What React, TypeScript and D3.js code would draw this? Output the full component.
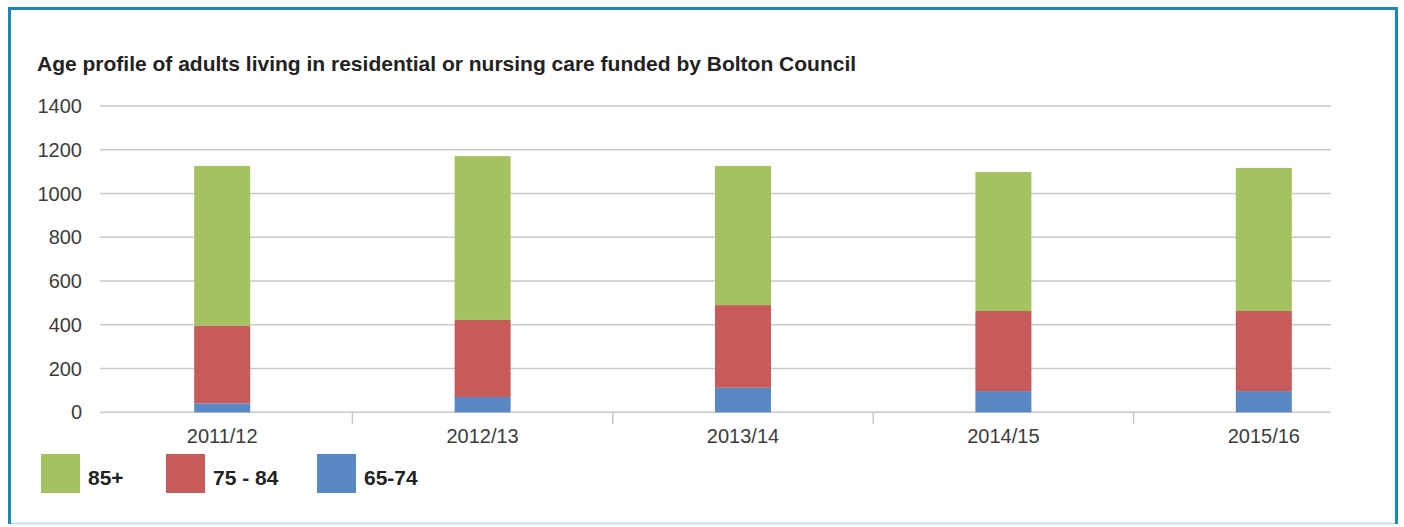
import React from "react";
import * as d3 from "d3";

const categories = ["2011/12", "2012/13", "2013/14", "2014/15", "2015/16"];
const series65to74 = [41, 70, 112, 97, 97];
const series75to84 = [355, 352, 378, 366, 366];
const series85plus = [730, 749, 636, 635, 654];
const yTicks = [0, 200, 400, 600, 800, 1000, 1200, 1400];
const seriesKeys = ["65-74", "75 - 84", "85+"];
const seriesColors: Record<string, string> = {
  "85+": "#a5c262",
  "75 - 84": "#c75b59",
  "65-74": "#5889c4",
};
const legendOrder = ["85+", "75 - 84", "65-74"];
const title = "Age profile of adults living in residential or nursing care funded by Bolton Council";

const W = 1404;
const H = 527;
const FONT = "'Liberation Sans', Arial, Helvetica, sans-serif";

export default function App() {
  const rows = categories.map((c, i) => ({
    cat: c,
    "65-74": series65to74[i],
    "75 - 84": series75to84[i],
    "85+": series85plus[i],
  }));
  const stack = d3.stack<any>().keys(seriesKeys)(rows);

  const x = d3.scaleBand<string>().domain(categories).range([92, 1394]).padding(0);
  const y = d3.scaleLinear().domain([0, 1400]).range([412.3, 106]);
  const barW = 56;
  const gridX0 = 100;
  const gridX1 = 1331;

  const legendX = [41, 166, 317];

  return (
    <svg
      width={W}
      height={H}
      style={{ position: "absolute", left: 0, top: 0, background: "#fff" }}
      fontFamily={FONT}
    >
      {/* frame */}
      <line x1={8} x2={1398} y1={8.5} y2={8.5} stroke="#1a84bf" strokeWidth={3} />
      <line x1={9.5} x2={9.5} y1={7} y2={524} stroke="#1a84bf" strokeWidth={3} />
      <line x1={1396.5} x2={1396.5} y1={7} y2={524} stroke="#1a84bf" strokeWidth={3} />
      <line x1={11} x2={1395} y1={523.5} y2={523.5} stroke="#bfe2ee" strokeWidth={2} />

      <text x={37} y={71} fontSize={21} fontWeight="bold" fill="#222">
        {title}
      </text>

      {/* gridlines */}
      {yTicks.map((t) => (
        <g key={t}>
          <line x1={gridX0} x2={gridX1} y1={y(t)} y2={y(t)} stroke="#c9c9c9" strokeWidth={1.5} />
          <text x={82} y={y(t) + 7} textAnchor="end" fontSize={20} fill="#3c3c3c">
            {t}
          </text>
        </g>
      ))}

      {/* category separators */}
      {categories.slice(1).map((c) => (
        <line
          key={c}
          x1={x(c)!}
          x2={x(c)!}
          y1={y(0)}
          y2={y(0) + 12}
          stroke="#c9c9c9"
          strokeWidth={1.5}
        />
      ))}

      {/* bars */}
      {stack.map((s) => (
        <g key={s.key} fill={seriesColors[s.key]}>
          {s.map((d, i) => {
            const cx = x(categories[i])! + x.bandwidth() / 2;
            return (
              <rect
                key={i}
                x={cx - barW / 2}
                y={y(d[1])}
                width={barW}
                height={y(d[0]) - y(d[1])}
              />
            );
          })}
        </g>
      ))}

      {/* x labels */}
      {categories.map((c) => (
        <text
          key={c}
          x={x(c)! + x.bandwidth() / 2}
          y={443}
          textAnchor="middle"
          fontSize={20}
          fill="#3c3c3c"
        >
          {c}
        </text>
      ))}

      {/* legend */}
      {legendOrder.map((k, i) => (
        <g key={k}>
          <rect x={legendX[i]} y={454} width={39} height={39} fill={seriesColors[k]} />
          <text x={legendX[i] + 47} y={485} fontSize={21} fontWeight="bold" fill="#222">
            {k}
          </text>
        </g>
      ))}
    </svg>
  );
}
